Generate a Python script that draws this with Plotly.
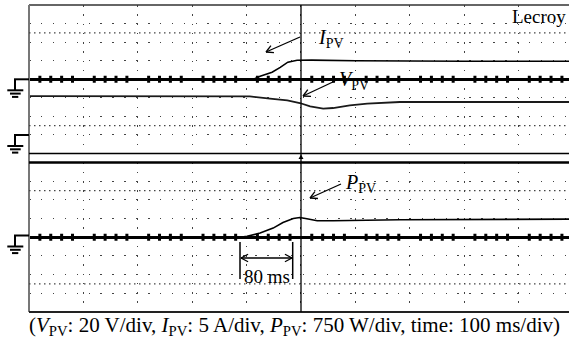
import math
import plotly.graph_objects as go

# ---------------- data (time in ms, 100 ms/div) ----------------
t_ipv = [0, 400, 415, 425, 447, 462, 476, 493, 520, 600, 680, 800, 993]
i_pv = [0, 0, 0.15, 0.8, 1.9, 3.2, 4.6, 5.1, 5.15, 5.0, 4.9, 4.85, 4.85]          # A (5 A/div)

t_vpv = [0, 315, 406, 443, 475, 498, 517, 541, 559, 590, 622, 682, 800, 993]
v_pv = [41.9, 42.2, 41.6, 39.1, 37.3, 34.4, 30.8, 28.3, 29.0, 31.9, 33.7, 35.5, 35.5, 35.5]  # V (20 V/div)

t_ppv = [0, 388, 401, 425, 449, 467, 486, 498, 511, 530, 559, 682, 993]
p_pv = [0, 0, 40, 168, 368, 592, 752, 792, 740, 660, 660, 700, 728]                # W (750 W/div)

caption = ("(<i>V</i><sub>PV</sub>: 20 V/div, <i>I</i><sub>PV</sub>: 5 A/div, "
           "<i>P</i><sub>PV</sub>: 750 W/div, time: 100 ms/div)")

# ---------------- geometry ----------------
W, H = 569, 347
L, R, T, B = 29, 0, 5, 35
PW, PH = W - L - R, H - T - B
X_END = 993  # ms visible
FONT = "Liberation Serif"


def px(x):
    return (x - L) / PW


def py(y):
    return (H - B - y) / PH


fig = go.Figure()

fig.add_trace(go.Scatter(x=t_ipv, y=i_pv, mode="lines", yaxis="y",
                         line=dict(color="black", width=1.6), hoverinfo="skip"))
fig.add_trace(go.Scatter(x=t_vpv, y=v_pv, mode="lines", yaxis="y2",
                         line=dict(color="#1a1a1a", width=1.8), hoverinfo="skip"))
fig.add_trace(go.Scatter(x=t_ppv, y=p_pv, mode="lines", yaxis="y3",
                         line=dict(color="black", width=1.6), hoverinfo="skip"))

# minor tick blocks on the centre axes
minor_t = [t for t in range(20, X_END, 20) if t % 100]
for ya in ("y", "y3"):
    fig.add_trace(go.Scatter(x=minor_t, y=[0] * len(minor_t), mode="markers", yaxis=ya,
                             marker=dict(symbol="line-ns", size=5,
                                         line=dict(width=3, color="black")),
                             hoverinfo="skip"))

shapes = []


def seg(x0, y0, x1, y1, w=1.5, c="black", dash=None):
    d = dict(type="line", xref="paper", yref="paper",
             x0=px(x0), y0=py(y0), x1=px(x1), y1=py(y1),
             line=dict(color=c, width=w))
    if dash:
        d["line"]["dash"] = dash
    shapes.append(d)


# frame
seg(29, 5, 569, 5, 1.5, "#333")
seg(29, 5, 29, 312, 2, "#777")
seg(29, 153.5, 569, 153.5, 1.3, "black")
seg(29, 162.5, 569, 162.5, 2.5, "black")
seg(29, 312, 569, 312, 2, "#222")
seg(301, 5, 301, 312, 1.3, "black")
# trigger marker
shapes.append(dict(type="path", xref="paper", yref="paper",
                   path=f"M {px(298.5)},{py(159)} L {px(303.5)},{py(159)} L {px(301)},{py(154.5)} Z",
                   fillcolor="black", line=dict(width=0)))

# dense dotted cursor rows
for ya, v in (("y", 12.5), ("y", -12.5), ("y3", 1875), ("y3", -1875)):
    shapes.append(dict(type="line", xref="x", yref=ya, x0=0, x1=X_END, y0=v, y1=v,
                       line=dict(color="#444", width=1.2, dash="1.5px,3.5px")))


# ground symbols
def ground(y):
    seg(14, y, 29, y, 2)
    seg(15, y, 15, y + 11, 2)
    seg(7.3, y + 11, 23.3, y + 11, 2)
    seg(10, y + 14.3, 20.7, y + 14.3, 2)
    seg(12, y + 17.6, 18.3, y + 17.6, 2)


ground(79.3)
ground(135)
ground(235.5)

# 80 ms bars
seg(240, 242, 240, 279, 1.5)
seg(292.7, 242, 292.7, 279, 1.5)


def head(hx, hy, tx, ty, size=8, ang=28):
    a = math.atan2(ty - hy, tx - hx)
    for s in (-1, 1):
        b = a + s * math.radians(ang)
        seg(hx, hy, hx + size * math.cos(b), hy + size * math.sin(b), 1.3)


def arrow(hx, hy, tx, ty, both=False):
    seg(tx, ty, hx, hy, 1.3)
    head(hx, hy, tx, ty)
    if both:
        head(tx, ty, hx, hy)


ann = []


def label(x, y, text, xanchor="left", size=19):
    ann.append(dict(xref="paper", yref="paper", x=px(x), y=py(y), text=text,
                    showarrow=False, xanchor=xanchor, yanchor="middle",
                    font=dict(family=FONT, size=size, color="black")))


label(316, 38, "<i>I</i><sub>PV</sub>", size=20)
arrow(266, 52, 300, 37)
label(337, 80, "<i>V</i><sub>PV</sub>", size=20)
arrow(303, 96, 335, 81)
label(343, 183, "<i>P</i><sub>PV</sub>", size=20)
arrow(310, 198, 341, 184)
label(568, 16, "Lecroy", xanchor="right")
label(266.5, 276, "80 ms", xanchor="center")
arrow(292, 258, 241, 258, both=True)
label(294, 326, caption, xanchor="center", size=21)

grid_common = dict(showticklabels=False, ticks="", showline=False,
                   gridcolor="#444", gridwidth=1.3)

fig.update_layout(
    width=W, height=H,
    margin=dict(l=L, r=R, t=T, b=B, pad=0),
    paper_bgcolor="white", plot_bgcolor="white",
    showlegend=False,
    xaxis=dict(range=[0, X_END], dtick=100, tick0=0, showgrid=True,
               griddash="1.5px,7.75px", zeroline=False, anchor="y", **grid_common),
    yaxis=dict(domain=[py(153.5), 1], range=[-20, 20], dtick=5, showgrid=True,
               griddash="1.5px,10.4px", zeroline=True, zerolinecolor="black",
               zerolinewidth=2.5, **grid_common),
    yaxis2=dict(overlaying="y", range=[-20, 140], visible=False),
    yaxis3=dict(domain=[0, py(162.5)], range=[-3000, 3000], dtick=750, showgrid=True,
                griddash="1.5px,10.4px", zeroline=True, zerolinecolor="black",
                zerolinewidth=2.5, anchor="x", **grid_common),
    shapes=shapes,
    annotations=ann,
)

fig.write_html("out.html")
